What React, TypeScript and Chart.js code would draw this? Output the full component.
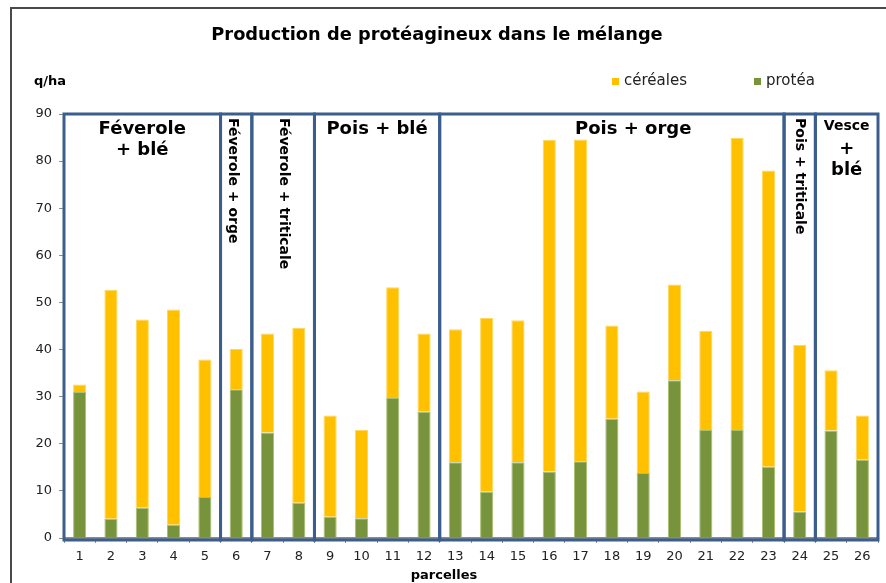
import React, { useEffect, useRef } from "react";
import { Chart, registerables } from "chart.js";

Chart.register(...registerables);

// ---- data ----
const parcelles = ["1", "2", "3", "4", "5", "6", "7", "8", "9", "10", "11", "12", "13", "14", "15", "16", "17", "18", "19", "20", "21", "22", "23", "24", "25", "26"];
const protea = [31.0, 4.1, 6.4, 2.8, 8.7, 31.6, 22.4, 7.5, 4.5, 4.2, 29.7, 26.8, 16.1, 9.8, 16.1, 14.1, 16.3, 25.3, 13.8, 33.5, 22.9, 22.9, 15.1, 5.6, 22.8, 16.6];
const cereales = [1.6, 48.6, 40.0, 45.7, 29.2, 8.5, 21.0, 37.1, 21.5, 18.7, 23.5, 16.6, 28.2, 36.9, 30.1, 70.4, 68.3, 19.8, 17.3, 20.3, 21.1, 62.0, 62.9, 35.4, 12.8, 9.4];
const yMin = 0;
const yMax = 90;
const yStep = 10;

const groupLines = [
  ["Féverole", "+ blé"],
  ["Féverole + orge"],
  ["Féverole + triticale"],
  ["Pois + blé"],
  ["Pois + orge"],
  ["Pois + triticale"],
  ["Vesce", "+", "blé"],
];
const groupFirst = [0, 5, 6, 8, 12, 23, 24];
const groupLast = [4, 5, 7, 11, 22, 23, 25];

const TITLE = "Production de protéagineux dans le mélange";
const UNIT = "q/ha";
const XTITLE = "parcelles";
const NAME_CEREALES = "céréales";
const NAME_PROTEA = "protéa";

// ---- styles ----
const YELLOW = "#FFC000";
const GREEN = "#77933C";
const BOX = "#3B5E8E";
const FONT = "'DejaVu Sans', Verdana, sans-serif";
// per-group label layout: vertical text or stacked lines, with optional shift in category units
const groupStyle = [
  { vertical: false, shift: 0, sizes: [18, 18] },
  { vertical: true, shift: -0.1, sizes: [14] },
  { vertical: true, shift: 0, sizes: [14] },
  { vertical: false, shift: 0, sizes: [18] },
  { vertical: false, shift: 0.68, sizes: [18] },
  { vertical: true, shift: 0, sizes: [14] },
  { vertical: false, shift: 0, sizes: [14, 18, 18] },
];

const overlay = {
  id: "overlay",
  beforeDraw(chart: any) {
    const ctx = chart.ctx;
    ctx.save();
    ctx.fillStyle = "#ffffff";
    ctx.fillRect(0, 0, chart.width, chart.height);
    ctx.restore();
  },
  afterDraw(chart: any) {
    const ctx = chart.ctx;
    const x = chart.scales.x;
    const y = chart.scales.y;
    const half = (x.getPixelForValue(1) - x.getPixelForValue(0)) / 2;
    const top = y.getPixelForValue(yMax);
    const bottom = y.getPixelForValue(yMin) + 2;
    ctx.save();
    // group boxes
    ctx.strokeStyle = BOX;
    ctx.lineWidth = 3;
    groupFirst.forEach((f, i) => {
      const x0 = x.getPixelForValue(f) - half;
      const x1 = x.getPixelForValue(groupLast[i]) + half;
      ctx.strokeRect(x0, top, x1 - x0, bottom - top);
    });
    // group labels
    ctx.fillStyle = "#000";
    groupLines.forEach((lines, i) => {
      const st = groupStyle[i];
      const cx = (x.getPixelForValue(groupFirst[i]) + x.getPixelForValue(groupLast[i])) / 2 + st.shift * 2 * half;
      if (st.vertical) {
        ctx.save();
        ctx.translate(cx, top + 4);
        ctx.rotate(Math.PI / 2);
        ctx.font = `bold ${st.sizes[0]}px ${FONT}`;
        ctx.textAlign = "left";
        ctx.textBaseline = "middle";
        ctx.fillText(lines[0], 0, 0);
        ctx.restore();
      } else {
        ctx.textAlign = "center";
        ctx.textBaseline = "middle";
        let yy = top + 15;
        lines.forEach((ln, k) => {
          ctx.font = `bold ${st.sizes[k]}px ${FONT}`;
          if (k > 0) yy += lines.length === 3 ? 20.5 : 21;
          ctx.fillText(ln, cx, k === 0 && lines.length === 3 ? yy - 3 : yy);
        });
      }
    });
    // title
    ctx.fillStyle = "#000";
    ctx.textAlign = "center";
    ctx.textBaseline = "middle";
    ctx.font = `bold 17.8px ${FONT}`;
    ctx.fillText(TITLE, 437, 35);
    // unit
    ctx.textAlign = "left";
    ctx.font = `bold 13px ${FONT}`;
    ctx.fillText(UNIT, 34, 82);
    // legend
    const items = [
      { name: NAME_CEREALES, color: chart.data.datasets[1].backgroundColor, x: 612 },
      { name: NAME_PROTEA, color: chart.data.datasets[0].backgroundColor, x: 754 },
    ];
    ctx.font = `15px ${FONT}`;
    items.forEach((it) => {
      ctx.fillStyle = it.color;
      ctx.fillRect(it.x, 78, 7, 7);
      ctx.fillStyle = "#222";
      ctx.fillText(it.name, it.x + 12, 81);
    });
    // x title
    ctx.textAlign = "center";
    ctx.fillStyle = "#000";
    ctx.font = `bold 13px ${FONT}`;
    ctx.fillText(XTITLE, 444, 576);
    // outer frame
    ctx.strokeStyle = "#4a4a4a";
    ctx.lineWidth = 2;
    ctx.beginPath();
    ctx.moveTo(11, chart.height + 2);
    ctx.lineTo(11, 8);
    ctx.lineTo(chart.width + 2, 8);
    ctx.stroke();
    ctx.restore();
  },
};

export default function App() {
  const ref = useRef<HTMLCanvasElement | null>(null);
  useEffect(() => {
    document.body.style.margin = "0";
    document.body.style.overflow = "hidden";
    const canvas = ref.current!;
    const chart = new Chart(canvas, {
      type: "bar",
      data: {
        labels: parcelles,
        datasets: [
          {
            label: NAME_PROTEA,
            data: protea,
            backgroundColor: GREEN,
            borderColor: "#a9c070",
            borderWidth: 1,
          },
          {
            label: NAME_CEREALES,
            data: cereales,
            backgroundColor: YELLOW,
            borderColor: "#ffd75e",
            borderWidth: 1,
          },
        ],
      },
      options: {
        responsive: false,
        animation: false,
        devicePixelRatio: 1,
        layout: { padding: { left: 0, right: 8, top: 114, bottom: 0 } },
        datasets: { bar: { barPercentage: 0.42, categoryPercentage: 1 } },
        plugins: {
          legend: { display: false },
          title: { display: false },
          tooltip: { enabled: false },
        },
        scales: {
          x: {
            stacked: true,
            grid: { drawOnChartArea: false, drawTicks: true, tickLength: 5, color: "#8c8c8c", offset: true },
            border: { color: "#8c8c8c", width: 2 },
            ticks: { font: { family: FONT, size: 13 }, color: "#222", padding: 6, maxRotation: 0, autoSkip: false },
            afterFit: (s: any) => {
              s.height = 45;
            },
          },
          y: {
            stacked: true,
            min: yMin,
            max: yMax,
            grid: { drawOnChartArea: false, drawTicks: true, tickLength: 5, color: "#8c8c8c" },
            border: { color: "#8c8c8c", width: 2 },
            ticks: { stepSize: yStep, font: { family: FONT, size: 13 }, color: "#222", padding: 7 },
            afterFit: (s: any) => {
              s.width = 64;
            },
          },
        },
      },
      plugins: [overlay],
    });
    return () => chart.destroy();
  }, []);
  return <canvas ref={ref} width={886} height={583} style={{ display: "block" }} />;
}
